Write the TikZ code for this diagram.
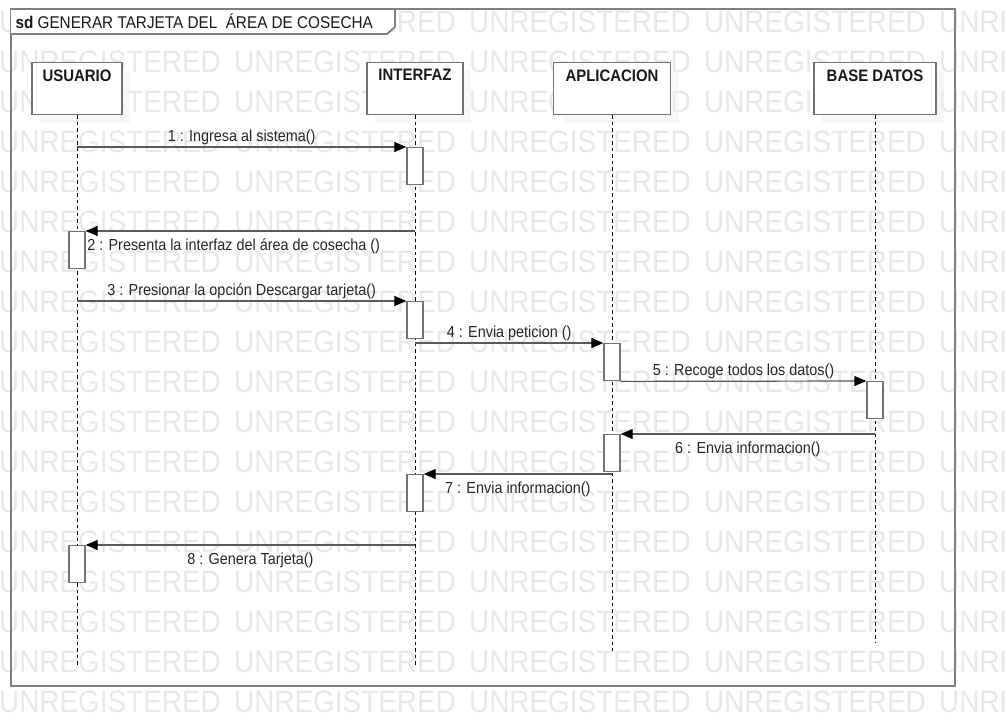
\documentclass[tikz,border=0pt]{standalone}
\usepackage{fontspec}
\setmainfont{Liberation Sans}[FakeStretch=0.9]
\usetikzlibrary{arrows.meta,positioning,shadows}
\newcommand{\msgfont}{\fontsize{16}{19}\selectfont}
\tikzset{
  actor/.style={
    rectangle, draw=black!55, line width=1.4pt, fill=white,
    minimum height=52pt, anchor=north, inner sep=0pt,
    drop shadow={shadow xshift=8pt, shadow yshift=-8pt, fill=black!6, draw=none}
  },
  actorlbl/.style={anchor=north, yshift=-4pt,
                   font=\fontsize{16.6}{19}\selectfont\bfseries, text=black!90},
  act/.style={rectangle, draw=black!55, line width=1.4pt, fill=white,
              minimum width=16pt, minimum height=37pt, anchor=north, inner sep=0pt},
  lifeline/.style={draw=black, line width=0.9pt, dash pattern=on 3.5pt off 3pt},
  msg/.style={-{Triangle[length=12pt,width=10pt,color=black]},
              draw=black!65, line width=1.2pt},
  lbla/.style={above, inner ysep=2pt, font=\msgfont, text=black!85},
  lblb/.style={below, inner ysep=2pt, yshift=-5pt, font=\msgfont, text=black!85},
  wmark/.style={anchor=base west, inner sep=0pt, text=black!9,
                font=\fontsize{31}{31}\selectfont}
}

\begin{document}
\begin{tikzpicture}[
    x=1pt, y=-1pt,
    frame/.style={draw=black!50, line width=1.8pt}
]
  \useasboundingbox (0,0) rectangle (1005,715);

  % Watermark rows
  \foreach \r in {0,...,17}{
    \foreach \c in {0,...,4}{
      \node[wmark] (wm-\r-\c) at (235*\c-1, 32+40*\r) {UNREGISTERED};
    }
  }

  % Frame and title tab
  \draw[frame] (11,9) rectangle (955,686);
  \draw[frame, fill=white] (11,9) -- (395,9) -- (395,27) -- (387,34) -- (11,34);
  \node[anchor=west, font=\fontsize{17}{20}\selectfont, text=black!90] (title) at (12,21)
       {\textbf{sd} GENERAR TARJETA DEL~ ÁREA DE COSECHA};

  % Participants
  \node[actor, minimum width=90pt,  label={[actorlbl]north:USUARIO}]    (usr) at (77,62)  {};
  \node[actor, minimum width=96pt,  label={[actorlbl]north:INTERFAZ}]   (ifz) at (415,62) {};
  \node[actor, minimum width=117pt, label={[actorlbl]north:APLICACION}] (app) at (612,62) {};
  \node[actor, minimum width=122pt, label={[actorlbl]north:BASE DATOS}] (bd)  at (875,62) {};

  % Lifelines
  \foreach \a/\e in {usr/665, ifz/665, app/651, bd/643}{
    \coordinate (\a-end) at (\a.south |- 0,\e);
    \draw[lifeline] (\a.south) -- (\a-end);
  }

  % Activation bars
  \foreach \n/\x/\y in {a1/415/147, a2/77/231, a3/415/301, a4/612/343,
                        a5/875/381, a6/612/434, a7/415/474, a8/77/545}{
    \node[act] (\n) at (\x,\y) {};
  }

  % Messages
  \draw[msg] (a1.north west -| usr) -- (a1.north west)
    node[lbla, midway] (m1) {1 : Ingresa al sistema()};
  \draw[msg] (a2.north east -| ifz) -- (a2.north east)
    node[lblb, pos=1, anchor=north west, inner xsep=1pt] (m2)
    {2 : Presenta la interfaz del área de cosecha ()};
  \draw[msg] (a3.north west -| usr) -- (a3.north west)
    node[lbla, midway] (m3) {3 : Presionar la opción Descargar tarjeta()};
  \draw[msg] (a4.north west -| ifz) -- (a4.north west)
    node[lbla, midway] (m4) {4 : Envia peticion ()};
  \draw[msg] (a4.south east) -- (a5.north west)
    node[lbla, midway] (m5) {5 : Recoge todos los datos()};
  \draw[msg] (a6.north east -| bd) -- (a6.north east)
    node[lblb, midway] (m6) {6 : Envia informacion()};
  \draw[msg] (a7.north east -| app) -- (a7.north east)
    node[lblb, midway] (m7) {7 : Envia informacion()};
  \draw[msg] (a8.north east -| ifz) -- (a8.north east)
    node[lblb, midway] (m8) {8 : Genera Tarjeta()};

\end{tikzpicture}
\end{document}
